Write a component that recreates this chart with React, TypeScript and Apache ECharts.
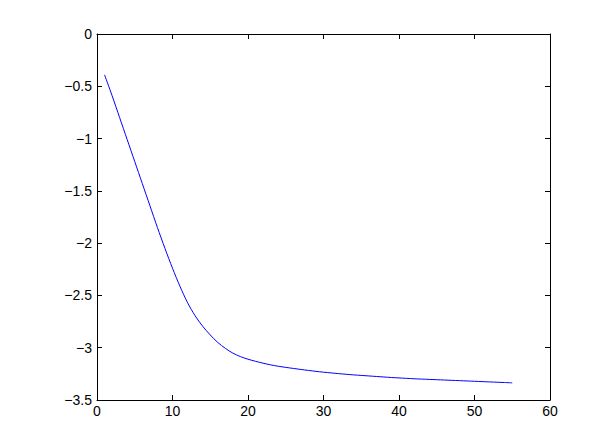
import React, { useEffect, useRef } from "react";
import * as echarts from "echarts";

const xValues: number[] = [
  1, 2, 3, 4, 5, 6, 7, 8, 9, 10, 11, 12, 13, 14, 15, 16, 17, 18, 19, 20,
  21, 22, 23, 24, 25, 26, 27, 28, 29, 30, 31, 32, 33, 34, 35, 36, 37, 38, 39, 40,
  41, 42, 43, 44, 45, 46, 47, 48, 49, 50, 51, 52, 53, 54, 55,
];
const yValues: number[] = [
  -0.39, -0.59, -0.8, -1.01, -1.22, -1.43, -1.64, -1.85, -2.05, -2.24,
  -2.415, -2.57, -2.695, -2.795, -2.878, -2.95, -3.006, -3.052, -3.085, -3.11,
  -3.13, -3.148, -3.164, -3.177, -3.188, -3.198, -3.208, -3.217, -3.226, -3.234,
  -3.241, -3.248, -3.254, -3.26, -3.265, -3.27, -3.275, -3.28, -3.285, -3.289,
  -3.293, -3.297, -3.3, -3.303, -3.306, -3.309, -3.312, -3.315, -3.318, -3.321,
  -3.324, -3.327, -3.33, -3.333, -3.336,
];
const xTicks = { min: 0, max: 60, interval: 10 };
const yTicks = { min: -3.5, max: 0, interval: 0.5 };

const fmt = (v: number) => String(v).replace("-", "\u2212");

export default function App() {
  const ref = useRef<HTMLDivElement>(null);
  useEffect(() => {
    if (!ref.current) return;
    const chart = echarts.init(ref.current, undefined, { renderer: "svg" });
    const axisLine = { show: true, onZero: false, lineStyle: { color: "#000", width: 1 } };
    const tick = { show: true, inside: true, length: 5, lineStyle: { color: "#000", width: 1 } };
    const label = {
      color: "#000",
      fontSize: 14,
      fontFamily: "Liberation Sans, Arial, sans-serif",
      formatter: fmt,
    };
    chart.setOption({
      animation: false,
      backgroundColor: "#fff",
      grid: { left: 97, right: 48, top: 34, bottom: 21, containLabel: false },
      xAxis: [
        {
          type: "value",
          position: "bottom",
          ...xTicks,
          axisLine,
          axisTick: tick,
          axisLabel: { ...label, margin: 4 },
          splitLine: { show: false },
        },
        {
          type: "value",
          position: "top",
          ...xTicks,
          axisLine,
          axisTick: tick,
          axisLabel: { show: false },
          splitLine: { show: false },
        },
      ],
      yAxis: [
        {
          type: "value",
          position: "left",
          ...yTicks,
          axisLine,
          axisTick: tick,
          axisLabel: { ...label, margin: 5 },
          splitLine: { show: false },
        },
        {
          type: "value",
          position: "right",
          ...yTicks,
          axisLine,
          axisTick: tick,
          axisLabel: { show: false },
          splitLine: { show: false },
        },
      ],
      series: [
        {
          type: "line",
          data: xValues.map((x, i) => [x, yValues[i]]),
          showSymbol: false,
          smooth: 0.3,
          lineStyle: { color: "#0000ff", width: 1 },
          itemStyle: { color: "#0000ff" },
        },
      ],
    });
    return () => chart.dispose();
  }, []);
  return (
    <div
      ref={ref}
      style={{ position: "absolute", left: 0, top: 0, width: 598, height: 421 }}
    />
  );
}
